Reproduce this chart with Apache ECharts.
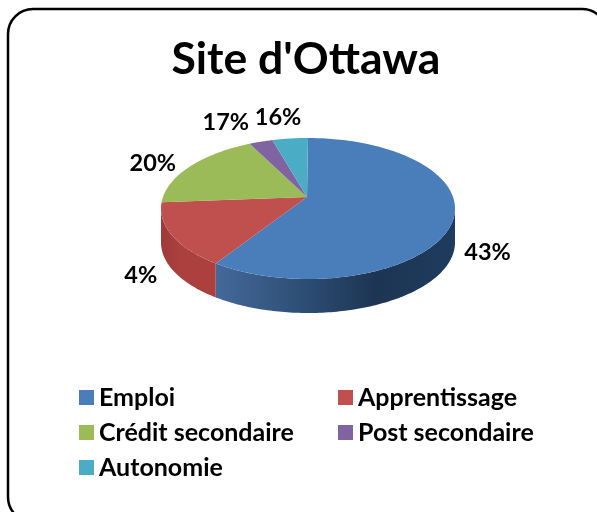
<!DOCTYPE html>
<html>
<head>
<meta charset="utf-8">
<style>html,body{margin:0;padding:0;background:#fff}#c{width:597px;height:512px}</style>
<script src="https://cdn.jsdelivr.net/npm/echarts@6/dist/echarts.min.js"></script>
</head>
<body>
<div id="c"></div>
<script>
const categories = ['Emploi', 'Apprentissage', 'Crédit secondaire', 'Post secondaire', 'Autonomie'];
const sliceValues = [60.8, 15.6, 17.1, 2.6, 3.9];
const labelTexts = ['43%', '4%', '20%', '17%', '16%'];
const colors = ['#4a7ebb', '#c0504d', '#9bbb59', '#8064a2', '#4bacc6'];
const wallStops = [
  ['#44699a', '#2f5078', '#1d3553', '#1f3b5e'],
  ['#9e3a38', '#ab403e', '#ab403e', '#ab403e'],
  ['#7d9647', '#7d9647', '#7d9647', '#7d9647'],
  ['#66508a', '#66508a', '#66508a', '#66508a'],
  ['#3c8a9e', '#3c8a9e', '#3c8a9e', '#3c8a9e']
];
const labelNudge = [[41, 20], [-32, 39], [-36, -4], [-35, -19], [-12, -21]];

const PIE = { cx: 308, cy: 208.5, rx: 147, ry: 70.5, apexX: 307, apexY: 197, depth: 34 };
const FONT = 'bold 23.5px Lato, Carlito, sans-serif';
const total = sliceValues.reduce((a, b) => a + b, 0);

function edge(t, dy) {
  return [PIE.cx + PIE.rx * Math.sin(t), PIE.cy - PIE.ry * Math.cos(t) + (dy || 0)];
}
function arc(from, to) {
  const n = Math.max(2, Math.ceil(Math.abs(to - from) / 0.02));
  const pts = [];
  for (let i = 0; i <= n; i++) pts.push(from + (to - from) * i / n);
  return pts;
}
function makeRender(idx) {
  return function (params, api) {
    let before = 0;
    for (let i = 0; i < idx; i++) before += sliceValues[i];
    const start = before / total * Math.PI * 2;
    const end = start + api.value(0) / total * Math.PI * 2;
    const children = [];
    const wa = Math.max(start, Math.PI / 2), wb = Math.min(end, Math.PI * 1.5);
    if (wb > wa) {
      const ts = arc(wa, wb);
      const pts = ts.map(t => edge(t, 0)).concat(ts.slice().reverse().map(t => edge(t, PIE.depth)));
      const stops = wallStops[idx];
      children.push({
        type: 'polygon', shape: { points: pts },
        style: { fill: { type: 'linear', x: 0, y: 0, x2: 1, y2: 0, global: false,
          colorStops: stops.map((c, i) => ({ offset: i / (stops.length - 1), color: c })) } }
      });
    }
    const top = [[PIE.apexX, PIE.apexY]].concat(arc(start, end).map(t => edge(t, 0)));
    children.push({ type: 'polygon', shape: { points: top }, style: { fill: colors[idx] } });
    const mid = edge((start + end) / 2, 0);
    children.push({
      type: 'text',
      style: {
        text: labelTexts[idx],
        x: mid[0] + labelNudge[idx][0], y: mid[1] + labelNudge[idx][1],
        align: 'center', verticalAlign: 'middle', font: FONT, fill: '#000'
      }
    });
    return { type: 'group', children: children };
  };
}
const legendBase = {
  orient: 'vertical', icon: 'rect', itemWidth: 15, itemHeight: 15, itemGap: 10, padding: 0,
  selectedMode: false,
  textStyle: { fontFamily: 'Lato, Carlito, sans-serif', fontWeight: 'bold', fontSize: 25, color: '#000' }
};
const chart = echarts.init(document.getElementById('c'), null, { renderer: 'canvas' });
chart.setOption({
  animation: false,
  backgroundColor: '#fff',
  title: {
    text: "Site d'Ottawa", left: 166.5, top: 32,
    textStyle: { fontFamily: 'Lato, Carlito, sans-serif', fontWeight: 'bold', fontSize: 44.5, color: '#000' }
  },
  graphic: [{
    type: 'rect', silent: true, z: -1,
    shape: { x: 8, y: 9, width: 599, height: 513, r: 25 },
    style: { fill: '#fff', stroke: '#000', lineWidth: 2.5 }
  }],
  legend: [
    Object.assign({}, legendBase, { left: 79, top: 385, data: [categories[0], categories[2], categories[4]] }),
    Object.assign({}, legendBase, { left: 338, top: 385, data: [categories[1], categories[3]] })
  ],
  series: categories.map((name, i) => ({
    type: 'custom', name: name, coordinateSystem: 'none', clip: false,
    itemStyle: { color: colors[i] },
    renderItem: makeRender(i),
    data: [[sliceValues[i]]]
  }))
});
</script>
</body>
</html>
